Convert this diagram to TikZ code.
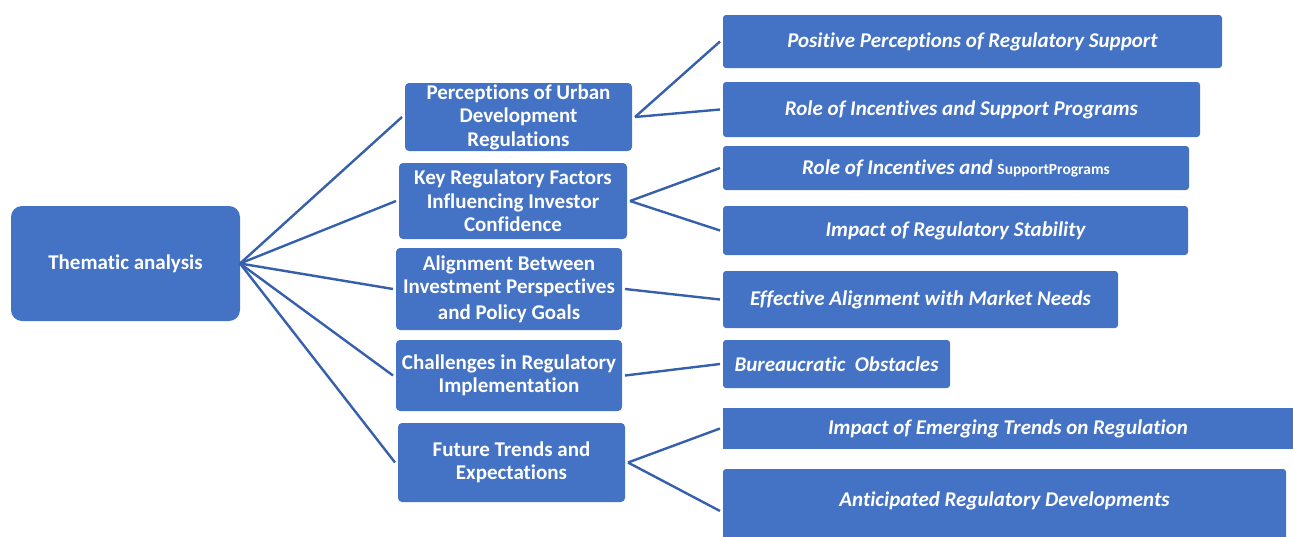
\documentclass[tikz,border=0pt]{standalone}
\usepackage{fontspec}
\setmainfont[Ligatures=NoCommon]{Carlito}
\definecolor{boxblue}{HTML}{4472C4}
\definecolor{lineblue}{HTML}{3660AC}
\begin{document}
\begin{tikzpicture}[x=1pt,y=-1pt,
  box/.style={fill=boxblue,text=white,inner sep=0pt,outer sep=0pt,anchor=north west,align=center,font=\fontsize{21}{23.5}\selectfont\bfseries},
  rbox/.style={box,rounded corners=3pt,font=\fontsize{21}{23.5}\selectfont\bfseries\itshape},
  mbox/.style={box,rounded corners=4pt},
  conn/.style={draw=lineblue,line width=2.4pt}]
\useasboundingbox (0,0) rectangle (1293,536);
% root
\node[box,rounded corners=11pt,minimum width=229pt,minimum height=115pt] (root) at (11,206) {Thematic analysis};
% middle
\node[mbox,minimum width=227pt,minimum height=68pt] (m1) at (405,83) {Perceptions of Urban\\Development\\Regulations};
\node[mbox,minimum width=228pt,minimum height=76pt] (m2) at (399,163) {Key Regulatory Factors\\Influencing Investor\\Confidence};
\node[mbox,minimum width=226pt,minimum height=82pt] (m3) at (396,248) {Alignment Between\\Investment Perspectives\\[2pt]and Policy Goals};
\node[mbox,minimum width=226pt,minimum height=71pt] (m4) at (396,340) {Challenges in Regulatory\\Implementation};
\node[mbox,minimum width=227pt,minimum height=79pt] (m5) at (398,423) {Future Trends and\\Expectations};
% right
\node[rbox,minimum width=499pt,minimum height=53pt] (r1) at (723,15) {Positive Perceptions of Regulatory Support};
\node[rbox,minimum width=477pt,minimum height=55pt] (r2) at (723,82) {Role of Incentives and Support Programs};
\node[rbox,minimum width=466pt,minimum height=44pt] (r3) at (723,146) {Role of Incentives and {\upshape\fontsize{15.5}{17}\selectfont SupportPrograms}};
\node[rbox,minimum width=465pt,minimum height=49pt] (r4) at (723,206) {Impact of Regulatory Stability};
\node[rbox,minimum width=395pt,minimum height=57pt] (r5) at (723,271) {Effective Alignment with Market Needs};
\node[rbox,minimum width=227pt,minimum height=48pt] (r6) at (723,340) {Bureaucratic\ \ Obstacles};
\node[rbox,rounded corners=0pt,minimum width=570pt,minimum height=41pt] (r7) at (723,408) {Impact of Emerging Trends on Regulation};
\node[rbox,minimum width=563pt,minimum height=72pt,text height=14pt,text depth=11pt] (r8) at (723,469) {Anticipated Regulatory Developments};
% connectors
\foreach \m in {m1,m2,m3,m4,m5} \draw[conn] (root.east) -- ([xshift=-3pt]\m.west);
\draw[conn] ([xshift=3pt]m1.east) -- ([xshift=-3pt]r1.west);
\draw[conn] ([xshift=3pt]m1.east) -- ([xshift=-3pt]r2.west);
\draw[conn] ([xshift=3pt]m2.east) -- ([xshift=-3pt]r3.west);
\draw[conn] ([xshift=3pt]m2.east) -- ([xshift=-3pt]r4.west);
\draw[conn] ([xshift=3pt]m3.east) -- ([xshift=-3pt]r5.west);
\draw[conn] ([xshift=3pt]m4.east) -- ([xshift=-3pt]r6.west);
\draw[conn] ([xshift=3pt]m5.east) -- ([xshift=-3pt]r7.west);
\draw[conn] ([xshift=3pt]m5.east) -- ([xshift=-3pt]r8.west |- 0,511);
\end{tikzpicture}
\end{document}
